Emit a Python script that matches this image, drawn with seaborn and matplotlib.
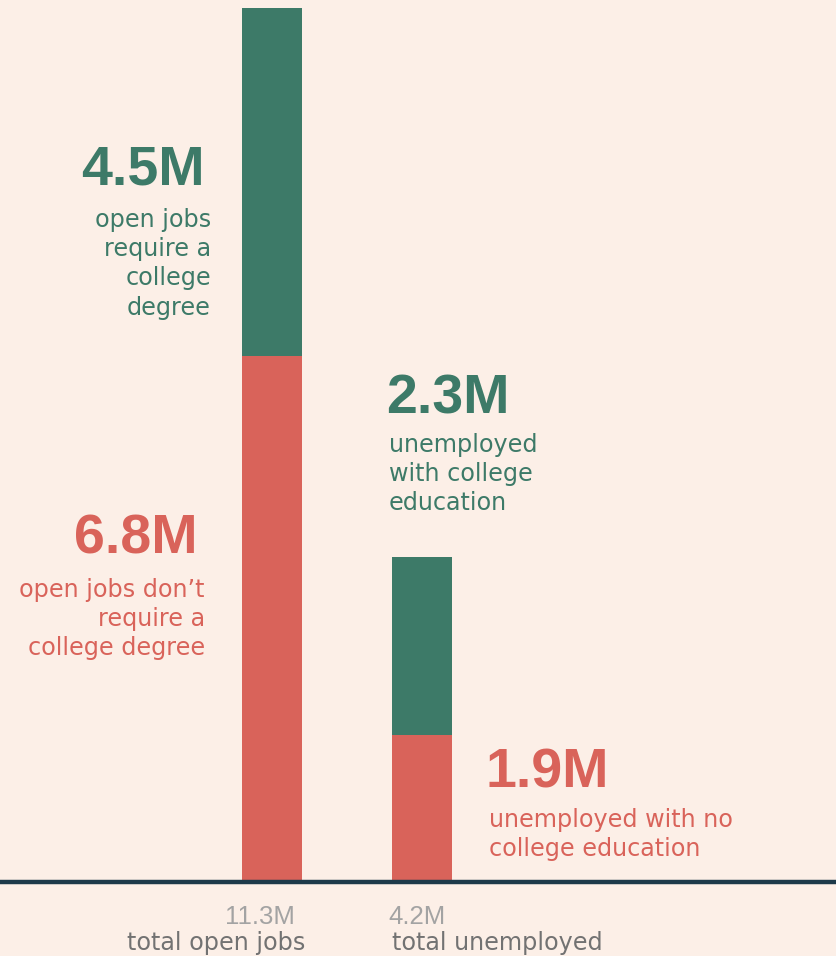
import matplotlib
matplotlib.use("Agg")
import matplotlib.pyplot as plt
import seaborn as sns
import pandas as pd

# Data (millions)
groups = ["total open jobs", "total unemployed"]
college = [4.5, 2.3]        # require a college degree / unemployed with college education
no_college = [6.8, 1.9]     # don't require a degree / unemployed without college education
totals = [11.3, 4.2]

college_text = ["open jobs\nrequire a\ncollege\ndegree", "unemployed\nwith college\neducation"]
no_college_text = ["open jobs don\u2019t\nrequire a\ncollege degree", "unemployed with no\ncollege education"]

BG = "#fcefe7"
GREEN = "#3d7a68"
RED = "#d9635a"
NAVY = "#1d3a4a"
GRAY_NUM = "#a3a3a3"
GRAY_TXT = "#727272"

df = pd.DataFrame({"group": groups, "college": college,
                   "no_college": no_college, "total": totals})

sns.set_theme(style="white")
W, H = 837, 956
fig = plt.figure(figsize=(W / 100, H / 100), dpi=100, facecolor=BG)
base_px = 882
ax = fig.add_axes([0, (H - base_px) / H, 1, base_px / H])
ax.set_facecolor(BG)

# stacked bars: full total in green, the no-college part in red over it
sns.barplot(data=df, x="group", y="total", color=GREEN, saturation=1,
            width=0.4, ax=ax, linewidth=0)
sns.barplot(data=df, x="group", y="no_college", color=RED, saturation=1,
            width=0.4, ax=ax, linewidth=0)

ax.set_xlim(-272 / 150, (W - 272) / 150)
ax.set_ylim(0, 11.3 * base_px / 874)
ax.axhline(0, color=NAVY, lw=3.2, zorder=5, clip_on=False)
for s in ax.spines.values():
    s.set_visible(False)
ax.set_xticks([])
ax.set_yticks([])
ax.set_xlabel("")
ax.set_ylabel("")

NUM_FONT = "Liberation Sans"
BODY_FONT = "DejaVu Sans"


def fx(x):
    return x / W


def fy(y):
    return 1 - y / H


def block(num, lines, color, x_num, y_num, x_body, y_body0, ha):
    fig.text(fx(x_num), fy(y_num), num, color=color, fontsize=40,
             fontweight="bold", family=NUM_FONT, ha=ha, va="baseline")
    for i, ln in enumerate(lines.split("\n")):
        fig.text(fx(x_body), fy(y_body0 + 29.2 * i), ln, color=color,
                 fontsize=17.2, family=BODY_FONT, ha=ha, va="baseline")


block(f"{college[0]}M", college_text[0], GREEN, 205, 185, 211, 227, "right")
block(f"{no_college[0]}M", no_college_text[0], RED, 198, 553, 205, 597, "right")
block(f"{college[1]}M", college_text[1], GREEN, 386, 414, 389, 452, "left")
block(f"{no_college[1]}M", no_college_text[1], RED, 486, 788, 489, 827, "left")

# category labels under the baseline
fig.text(fx(295), fy(924), f"{totals[0]}M", color=GRAY_NUM, fontsize=18.5,
         family=NUM_FONT, ha="right", va="baseline")
fig.text(fx(305), fy(950), groups[0], color=GRAY_TXT, fontsize=17.2,
         family=BODY_FONT, ha="right", va="baseline")
fig.text(fx(388), fy(924), f"{totals[1]}M", color=GRAY_NUM, fontsize=18.5,
         family=NUM_FONT, ha="left", va="baseline")
fig.text(fx(392), fy(950), groups[1], color=GRAY_TXT, fontsize=17.2,
         family=BODY_FONT, ha="left", va="baseline")

fig.savefig("out.png", dpi=100, facecolor=BG)
